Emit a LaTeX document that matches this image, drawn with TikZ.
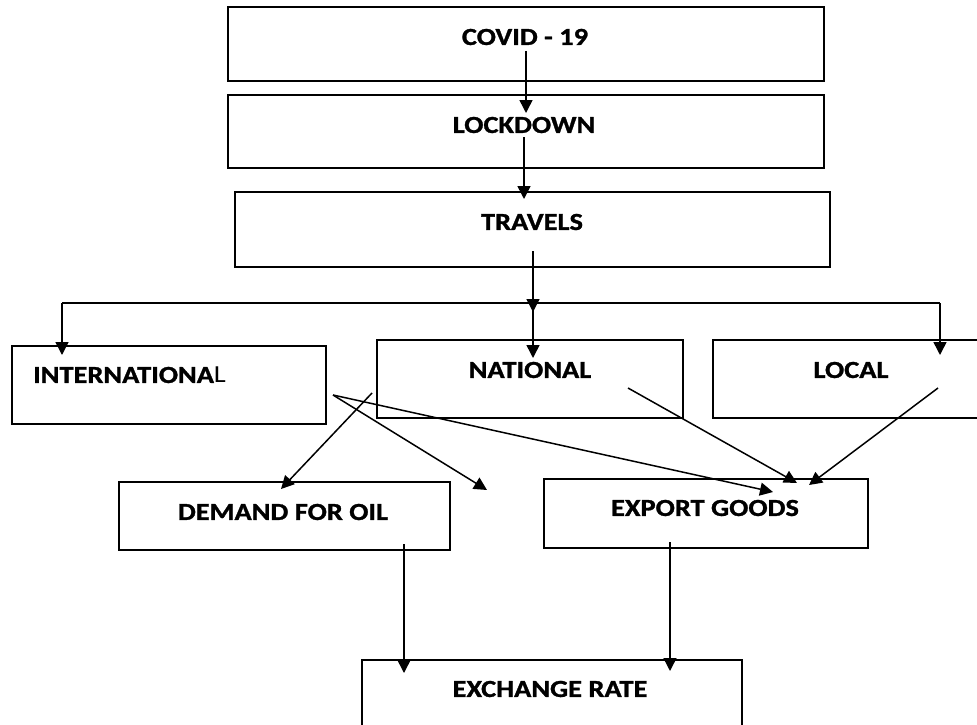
\documentclass[tikz,border=0pt]{standalone}
\usepackage{fontspec}
\setmainfont{Carlito}[FakeStretch=1.16, BoldFeatures={FakeBold=1.2}]
\usetikzlibrary{arrows.meta}
\begin{document}
\begin{tikzpicture}[x=1pt,y=-1pt,
  box/.style={draw, line width=1.7pt, inner sep=0pt, anchor=north west},
  lbl/.style={font=\fontsize{24.5}{28}\selectfont\bfseries, inner sep=0pt},
  link/.style={line width=1.5pt, -{Triangle[width=13pt,length=13pt]}},
  wire/.style={line width=1.5pt}]
\useasboundingbox (0,0) rectangle (977,725);
\clip (0,0) rectangle (977,725);

% boxes
\node[box, minimum width=596pt, minimum height=74pt] (covid)  at (227,6)   {};
\node[box, minimum width=596pt, minimum height=73pt, line width=2pt] (lock) at (227,94) {};
\node[box, minimum width=595pt, minimum height=75pt] (travel) at (234,191) {};
\node[box, minimum width=314pt, minimum height=78pt] (intl)   at (11,345)  {};
\node[box, minimum width=306pt, minimum height=78pt] (natl)   at (376,339) {};
\node[box, minimum width=290pt, minimum height=78pt] (local)  at (712,339) {};
\node[box, minimum width=331pt, minimum height=68pt] (demand) at (118,481) {};
\node[box, minimum width=324pt, minimum height=69pt] (export) at (543,478) {};
\node[box, minimum width=380pt, minimum height=90pt] (exch)   at (361,659) {};

% labels
\node[lbl] (covid-t)  at (525,37)  {COVID - 19};
\node[lbl] (lock-t)   at (524,125) {LOCKDOWN};
\node[lbl] (travel-t) at (532,222) {TRAVELS};
\node[lbl, anchor=west] (intl-t) at (33,375) {INTERNATIONA\mdseries L};
\node[lbl] (natl-t)   at (530,370) {NATIONAL};
\node[lbl] (local-t)  at (851,370) {LOCAL};
\node[lbl] (demand-t) at (283,512) {DEMAND FOR OIL};
\node[lbl] (export-t) at (705,508) {EXPORT GOODS};
\node[lbl] (exch-t)   at (550,689) {EXCHANGE RATE};

% connector ends
\coordinate (covid-o)  at (526,51);
\coordinate (lock-i)   at (526,113);
\coordinate (lock-o)   at (524,137);
\coordinate (travel-i) at (524,199);
\coordinate (travel-o) at (533,251);
\coordinate (bus-m)    at (533,312);
\coordinate (bus-c)    at (533,303);
\coordinate (bus-l)    at (62,303);
\coordinate (bus-r)    at (940,303);
\coordinate (intl-i)   at (62,355);
\coordinate (natl-i)   at (533,358);
\coordinate (local-i)  at (940,355);
\coordinate (intl-o)   at (333,395);
\coordinate (natl-o1)  at (372,393);
\coordinate (natl-o2)  at (628,388);
\coordinate (local-o)  at (938,388);
\coordinate (loose)    at (487,490);
\coordinate (demand-i) at (281,489);
\coordinate (export-i1) at (773,492);
\coordinate (export-i2) at (797,483);
\coordinate (export-i3) at (809,485);
\coordinate (demand-o) at (404,544);
\coordinate (export-o) at (670,542);
\coordinate (exch-i1)  at (404,673);
\coordinate (exch-i2)  at (670,671);

% connectors
\draw[link] (covid-o) -- (lock-i);
\draw[link] (lock-o) -- (travel-i);
\draw[link] (travel-o) -- (bus-m);
\draw[wire] (bus-l) -- (bus-r);
\draw[link] (bus-l) -- (intl-i);
\draw[link] (bus-c) -- (natl-i);
\draw[link] (bus-r) -- (local-i);
\draw[link] (natl-o1) -- (demand-i);
\draw[link] (intl-o) -- (loose);
\draw[link] (intl-o) -- (export-i1);
\draw[link] (natl-o2) -- (export-i2);
\draw[link] (local-o) -- (export-i3);
\draw[link] (demand-o) -- (exch-i1);
\draw[link] (export-o) -- (exch-i2);
\end{tikzpicture}
\end{document}
